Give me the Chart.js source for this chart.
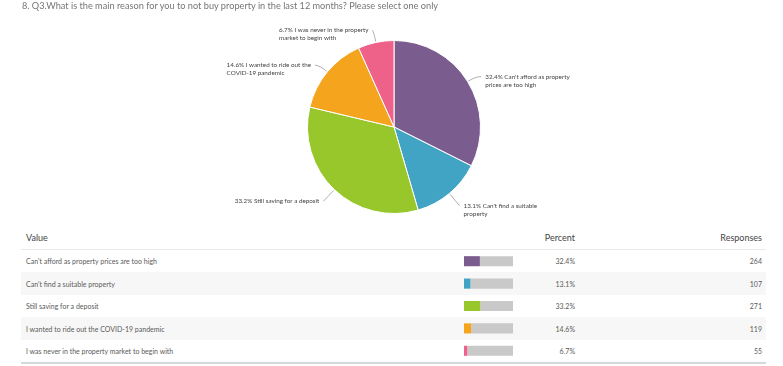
<!DOCTYPE html>
<html>
<head>
<meta charset="utf-8">
<script src="https://cdn.jsdelivr.net/npm/chart.js@4/dist/chart.umd.min.js"></script>
<style>
  html, body { margin: 0; padding: 0; background: #fff; }
  #wrap { position: relative; width: 783px; height: 366px; overflow: hidden; font-family: Lato, "Open Sans", sans-serif; }
  #title { position: absolute; left: 22px; top: 0px; font-size: 9.2px; line-height: 12px; color: #767676; white-space: nowrap; z-index: 2; }
  #pie { position: absolute; left: 0; top: 0; }
  #bars { position: absolute; left: 464px; top: 250px; }
  .hdr { position: absolute; top: 232px; font-size: 9px; line-height: 12px; color: #444; }
  .row { position: absolute; left: 21px; width: 745px; height: 22.5px; }
  .cell { position: absolute; font-size: 7px; line-height: 10px; color: #5a5a5a; white-space: nowrap; }
  .line { position: absolute; left: 21px; width: 745px; }
</style>
</head>
<body>
<div id="wrap">
  <div id="title"></div>
  <canvas id="pie" width="783" height="225"></canvas>
  <div id="table"></div>
  <canvas id="bars" width="49" height="112"></canvas>
</div>
<script>
const titleText = "8. Q3.What is the main reason for you to not buy property in the last 12 months? Please select one only";
const categories = [
  "Can't afford as property prices are too high",
  "Can't find a suitable property",
  "Still saving for a deposit",
  "I wanted to ride out the COVID-19 pandemic",
  "I was never in the property market to begin with"
];
const percents = [32.4, 13.1, 33.2, 14.6, 6.7];
const responses = [264, 107, 271, 119, 55];
const colors = ["#7b5c8e", "#41a4c4", "#97c72a", "#f4a41d", "#ee6289"];
const headers = ["Value", "Percent", "Responses"];

document.getElementById('title').textContent = titleText;

// ---- Table (text) ----
const table = document.getElementById('table');
const rowTop0 = 249.75, rowH = 22.5;
function el(cls, style, text) {
  const d = document.createElement('div');
  d.className = cls;
  Object.assign(d.style, style);
  if (text !== undefined) d.textContent = text;
  table.appendChild(d);
  return d;
}
el('hdr', { left: '26px' }, headers[0]);
el('hdr', { right: (783 - 575) + 'px' }, headers[1]);
el('hdr', { right: (783 - 762) + 'px' }, headers[2]);
el('line', { top: '248.5px', height: '2px', background: '#e8e8e8' });
categories.forEach((c, i) => {
  const top = rowTop0 + i * rowH;
  el('row', { top: top + 'px', background: i % 2 === 1 ? '#f7f7f7' : '#fff' });
  el('cell', { left: '26px', top: (top + 6.5) + 'px' }, c);
  el('cell', { right: (783 - 575) + 'px', top: (top + 6.5) + 'px' }, percents[i].toFixed(1) + '%');
  el('cell', { right: (783 - 762) + 'px', top: (top + 6.5) + 'px' }, String(responses[i]));
});
el('line', { top: (rowTop0 + 5 * rowH) + 'px', height: '1.5px', background: '#d8d8d8' });

// ---- Pie chart ----
const labelFont = '6.3px Lato, "Open Sans", sans-serif';
function wrapText(ctx, text, maxW) {
  const words = text.split(' ');
  const lines = [];
  let cur = '';
  words.forEach(w => {
    const t = cur ? cur + ' ' + w : w;
    if (ctx.measureText(t).width > maxW && cur) { lines.push(cur); cur = w; }
    else cur = t;
  });
  if (cur) lines.push(cur);
  return lines;
}
const pieLabels = {
  id: 'pieLabels',
  afterDatasetsDraw(chart) {
    const ctx = chart.ctx;
    const meta = chart.getDatasetMeta(0);
    ctx.save();
    ctx.font = labelFont;
    ctx.textBaseline = 'middle';
    meta.data.forEach((arc, i) => {
      const p = arc.getProps(['x', 'y', 'startAngle', 'endAngle', 'outerRadius'], true);
      const mid = (p.startAngle + p.endAngle) / 2;
      const cos = Math.cos(mid), sin = Math.sin(mid);
      const r = p.outerRadius;
      const sx = p.x + (r + 1) * cos, sy = p.y + (r + 1) * sin;
      const cxp = p.x + (r + 10) * cos, cyp = p.y + (r + 10) * sin;
      const ax = p.x + (r + 16) * cos;
      const ay = p.y + (r + 16) * sin + (sin < 0 ? 3.5 : 0);
      const right = cos >= 0;
      ctx.strokeStyle = '#9a9a9a';
      ctx.lineWidth = 0.8;
      ctx.beginPath();
      ctx.moveTo(sx, sy);
      ctx.quadraticCurveTo(cxp, cyp, ax, ay);
      ctx.stroke();
      const text = percents[i].toFixed(1) + '% ' + categories[i];
      const lines = wrapText(ctx, text, 90);
      const bw = Math.max(...lines.map(l => ctx.measureText(l).width));
      const tx = right ? ax + 4 : ax - 4 - bw;
      ctx.fillStyle = '#444';
      ctx.textAlign = 'left';
      lines.forEach((l, k) => ctx.fillText(l, tx, ay + k * 8));
    });
    ctx.restore();
  }
};
new Chart(document.getElementById('pie'), {
  type: 'pie',
  data: {
    labels: categories,
    datasets: [{ data: percents, backgroundColor: colors, borderColor: '#fff', borderWidth: 1 }]
  },
  options: {
    responsive: false,
    animation: false,
    devicePixelRatio: 1,
    layout: { padding: { left: 307, right: 302, top: 40, bottom: 11 } },
    plugins: { legend: { display: false }, tooltip: { enabled: false } }
  },
  plugins: [pieLabels]
});

// ---- Mini bars in table ----
new Chart(document.getElementById('bars'), {
  type: 'bar',
  data: {
    labels: categories,
    datasets: [
      { data: percents, backgroundColor: colors, borderWidth: 0, barPercentage: 1, categoryPercentage: 0.45 },
      { data: percents.map(v => 100 - v), backgroundColor: '#c9c9c9', borderWidth: 0, barPercentage: 1, categoryPercentage: 0.45 }
    ]
  },
  options: {
    indexAxis: 'y',
    responsive: false,
    animation: false,
    devicePixelRatio: 1,
    layout: { padding: 0 },
    scales: {
      x: { display: false, stacked: true, min: 0, max: 100 },
      y: { display: false, stacked: true }
    },
    plugins: { legend: { display: false }, tooltip: { enabled: false } }
  }
});
</script>
</body>
</html>
